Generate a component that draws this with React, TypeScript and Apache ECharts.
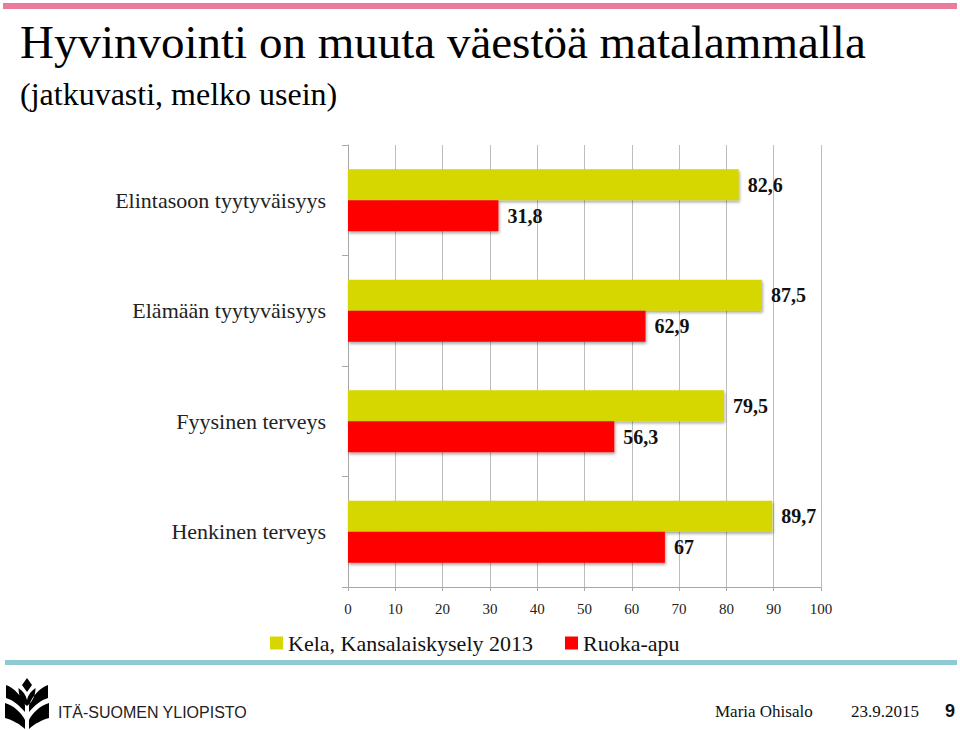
import React, { useEffect, useRef } from "react";
import * as echarts from "echarts";

const categories = [
  "Elintasoon tyytyväisyys",
  "Elämään tyytyväisyys",
  "Fyysinen terveys",
  "Henkinen terveys",
];
const kelaValues = [82.6, 87.5, 79.5, 89.7];
const ruokaValues = [31.8, 62.9, 56.3, 67];
const seriesNames = ["Kela, Kansalaiskysely 2013", "Ruoka-apu"];
const xMin = 0;
const xMax = 100;
const xStep = 10;

const SERIF = "'Liberation Serif', 'Times New Roman', serif";
const SANS = "'Liberation Sans', Arial, sans-serif";

const LOGO_D =
  "M27 678 L32 685 L27 692 L22 685 Z " +
  "M27 706 C22 702 18.5 696 18.5 688 C23 691 26 695 27 700 C28 695 31 691 35.5 688 C35.5 696 32 702 27 706 Z " +
  "M6 685 C14 688 21 695 25 705 L25 712 C19 705 13 700 6 698 Z " +
  "M48 685 C40 688 33 695 29 705 L29 712 C35 705 41 700 48 698 Z " +
  "M5 703 C14 706 21 712 25 720 L25 729 C20 724 12 720 5 718 Z " +
  "M49 703 C40 706 33 712 29 720 L29 729 C34 724 42 720 49 718 Z";

export default function App() {
  const ref = useRef<HTMLDivElement>(null);
  useEffect(() => {
    document.body.style.margin = "0";
    if (!ref.current) return;
    echarts.graphic.registerShape("logo", echarts.graphic.extendPath(LOGO_D, {}) as any);
    const chart = echarts.init(ref.current, null, { renderer: "svg" });
    const fmt = (p: any) => String(p.value).replace(".", ",");
    const labelStyle = {
      show: true,
      position: "right" as const,
      distance: 9,
      formatter: fmt,
      fontFamily: SERIF,
      fontSize: 20,
      fontWeight: "bold" as const,
      color: "#111",
    };
    const shadow = {
      shadowColor: "rgba(0,0,0,0.35)",
      shadowBlur: 3,
      shadowOffsetX: 1,
      shadowOffsetY: 2,
    };
    chart.setOption({
      animation: false,
      backgroundColor: "#ffffff",
      textStyle: { fontFamily: SERIF },
      grid: { left: 348, right: 139, top: 145, height: 442, containLabel: false },
      legend: {
        left: 265,
        top: 627,
        itemWidth: 13,
        itemHeight: 13,
        itemGap: 32,
        icon: "rect",
        textStyle: { fontFamily: SERIF, fontSize: 22, color: "#111" },
        data: seriesNames,
      },
      xAxis: {
        type: "value",
        min: xMin,
        max: xMax,
        interval: xStep,
        axisLine: { show: true, lineStyle: { color: "#a8a8a8" } },
        axisTick: { show: true, length: 4, lineStyle: { color: "#a8a8a8" } },
        splitLine: { show: true, lineStyle: { color: "#bdbdbd" } },
        axisLabel: { fontFamily: SERIF, fontSize: 15, color: "#222", margin: 14 },
      },
      yAxis: {
        type: "category",
        data: categories,
        inverse: true,
        axisLine: { show: true, lineStyle: { color: "#a8a8a8" } },
        axisTick: { show: true, length: 6, lineStyle: { color: "#a8a8a8" } },
        axisLabel: { fontFamily: SERIF, fontSize: 22, color: "#222", margin: 22 },
      },
      series: [
        {
          name: seriesNames[0],
          type: "bar",
          data: kelaValues,
          barWidth: 31,
          barGap: "0%",
          itemStyle: { color: "#d6d600", ...shadow },
          label: labelStyle,
        },
        {
          name: seriesNames[1],
          type: "bar",
          data: ruokaValues,
          barWidth: 31,
          barGap: "0%",
          itemStyle: { color: "#ff0000", ...shadow },
          label: labelStyle,
        },
      ],
      graphic: [
        { type: "rect", shape: { x: 3, y: 3, width: 954, height: 6 }, style: { fill: "#ec7b9b" } },
        { type: "rect", shape: { x: 5, y: 660, width: 952, height: 5 }, style: { fill: "#90c9d2" } },
        {
          type: "text",
          x: 20,
          y: 42,
          style: {
            text: "Hyvinvointi on muuta väestöä matalammalla",
            fontFamily: SERIF,
            fontSize: 47,
            fill: "#000",
            verticalAlign: "middle",
          },
        },
        {
          type: "text",
          x: 20,
          y: 94,
          style: {
            text: "(jatkuvasti, melko usein)",
            fontFamily: SERIF,
            fontSize: 32,
            fill: "#000",
            verticalAlign: "middle",
          },
        },
        { type: "logo", x: 0, y: 0, scaleX: 1, scaleY: 1, style: { fill: "#000" } },
        {
          type: "text",
          x: 58,
          y: 712,
          style: {
            text: "ITÄ-SUOMEN YLIOPISTO",
            fontFamily: SANS,
            fontSize: 16,
            fill: "#222",
            verticalAlign: "middle",
          },
        },
        {
          type: "text",
          x: 715,
          y: 711,
          style: { text: "Maria Ohisalo", fontFamily: SERIF, fontSize: 17, fill: "#111", verticalAlign: "middle" },
        },
        {
          type: "text",
          x: 851,
          y: 711,
          style: { text: "23.9.2015", fontFamily: SERIF, fontSize: 17, fill: "#111", verticalAlign: "middle" },
        },
        {
          type: "text",
          x: 945,
          y: 711,
          style: { text: "9", fontFamily: SANS, fontSize: 18, fontWeight: "bold", fill: "#111", verticalAlign: "middle" },
        },
      ],
    });
    return () => chart.dispose();
  }, []);
  return <div ref={ref} style={{ width: 960, height: 730 }} />;
}
